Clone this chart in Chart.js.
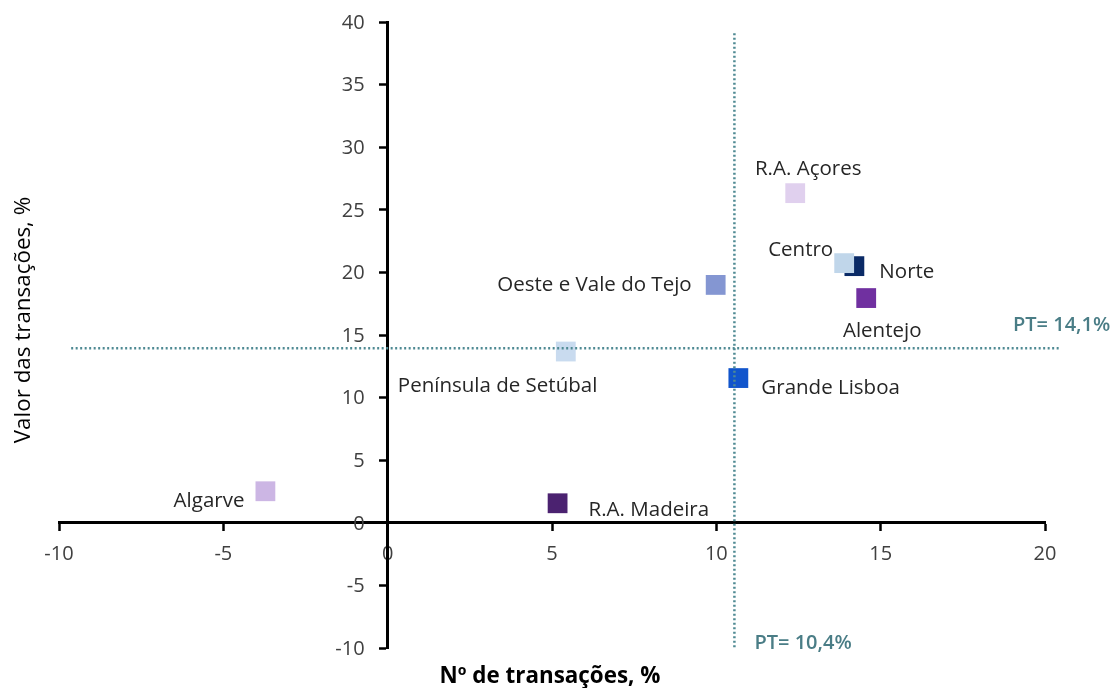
<!DOCTYPE html>
<html>
<head>
<meta charset="utf-8">
<script src="https://cdn.jsdelivr.net/npm/chart.js@4.4.1/dist/chart.umd.min.js"></script>
<style>
  html, body { margin: 0; padding: 0; background: #ffffff; }
  #wrap { width: 1113px; height: 688px; }
</style>
</head>
<body>
<div id="wrap"><canvas id="c" width="1113" height="688"></canvas></div>
<script>
// ---- data ----
const regions = ["Algarve", "R.A. Madeira", "Península de Setúbal", "Oeste e Vale do Tejo", "Grande Lisboa", "R.A. Açores", "Norte", "Centro", "Alentejo"];
const nTransacoes = [-3.72, 5.17, 5.42, 9.98, 10.67, 12.40, 14.20, 13.89, 14.56];
const valorTransacoes = [2.52, 1.56, 13.68, 19.00, 11.56, 26.33, 20.50, 20.74, 17.95];
const ptNumero = 10.55;   // PT= 10,4%
const ptValor = 13.95;    // PT= 14,1%
const xTicks = [-10, -5, 0, 5, 10, 15, 20];
const yTicks = [-10, -5, 0, 5, 10, 15, 20, 25, 30, 35, 40];

// ---- styles ----
const markerColors = ["#ccb6e4", "#4b2270", "#c9dbef", "#8496d2", "#1155cc", "#e0d0ee", "#0a2a66", "#c0d6ea", "#7030a0"];
// label placement relative to marker: [dx, dy, align]
const labelPlace = [
  [-21, 10, "right"], [31, 7, "left"], [-168, 35, "left"], [-24, 0, "right"],
  [23, 10, "left"], [13, -24, "center"], [25, 6, "left"], [-11, -13, "right"], [16, 33, "center"]
];
const FONT = "'Open Sans', Lato, sans-serif";
const teal = "#4f8a93";

const pointData = nTransacoes.map((x, i) => ({ x: x, y: valorTransacoes[i] }));

const labelPlugin = {
  id: "labels",
  afterDatasetsDraw(chart) {
    const ctx = chart.ctx;
    const xs = chart.scales.x, ys = chart.scales.y;
    const meta = chart.getDatasetMeta(2);
    ctx.save();
    // y tick labels (left of the crossing axis)
    ctx.font = "20px " + FONT;
    ctx.fillStyle = "#404040";
    ctx.textAlign = "right";
    ctx.textBaseline = "middle";
    const axisX = xs.getPixelForValue(0);
    yTicks.forEach(v => ctx.fillText(String(v), axisX - 23, ys.getPixelForValue(v) + 1));
    // point labels
    ctx.font = "20.5px " + FONT;
    ctx.fillStyle = "#262626";
    meta.data.forEach((el, i) => {
      const p = labelPlace[i];
      ctx.textAlign = p[2];
      ctx.fillText(regions[i], el.x + p[0], el.y + p[1]);
    });
    // PT labels
    ctx.fillStyle = "#4a7d86";
    ctx.font = "600 20px " + FONT;
    ctx.textAlign = "left";
    ctx.fillText("PT= 14,1%", xs.right - 32, ys.getPixelForValue(ptValor) - 23);
    ctx.fillText("PT= 10,4%", xs.getPixelForValue(ptNumero) + 20, ys.bottom - 5);
    // axis titles
    ctx.fillStyle = "#000000";
    ctx.font = "bold 22.4px " + FONT;
    ctx.textAlign = "center";
    ctx.fillText("Nº de transações, %", (xs.left + xs.right) / 2 - 2, 677);
    ctx.save();
    ctx.translate(24, 320);
    ctx.rotate(-Math.PI / 2);
    ctx.font = "22.4px " + FONT;
    ctx.fillText("Valor das transações, %", 0, 0);
    ctx.restore();
    ctx.restore();
  }
};

new Chart(document.getElementById("c"), {
  type: "scatter",
  data: {
    datasets: [
      {
        label: "PT nº",
        data: [{ x: ptNumero, y: 39.1 }, { x: ptNumero, y: -10 }],
        showLine: true, borderColor: teal, borderWidth: 2.5, borderDash: [2, 2.5],
        pointRadius: 0, clip: false
      },
      {
        label: "PT valor",
        data: [{ x: -9.63, y: ptValor }, { x: 20.43, y: ptValor }],
        showLine: true, borderColor: teal, borderWidth: 2.5, borderDash: [2, 2.5],
        pointRadius: 0, clip: false
      },
      {
        label: "Regiões",
        data: pointData,
        pointStyle: "rect",
        pointRadius: 14,
        pointHoverRadius: 14,
        pointBorderWidth: 0,
        borderWidth: 0,
        backgroundColor: markerColors,
        pointBackgroundColor: markerColors,
        clip: false
      }
    ]
  },
  options: {
    responsive: false,
    animation: false,
    devicePixelRatio: 1,
    layout: { padding: { left: 59, right: 68, top: 22, bottom: 40 } },
    plugins: { legend: { display: false }, tooltip: { enabled: false }, title: { display: false } },
    scales: {
      x: {
        type: "linear",
        position: { y: 0 },
        min: -10, max: 20,
        afterBuildTicks(s) { s.ticks = xTicks.map(v => ({ value: v })); },
        grid: { drawOnChartArea: false, drawTicks: true, tickLength: 7, tickColor: "#000", tickWidth: 2.5 },
        border: { display: true, color: "#000", width: 3 },
        ticks: { color: "#404040", font: { family: FONT, size: 20 }, padding: 12, maxRotation: 0 }
      },
      y: {
        type: "linear",
        position: { x: 0 },
        min: -10, max: 40,
        afterBuildTicks(s) { s.ticks = yTicks.map(v => ({ value: v })); },
        grid: { drawOnChartArea: false, drawTicks: true, tickLength: 7, tickColor: "#000", tickWidth: 2.5 },
        border: { display: true, color: "#000", width: 3 },
        ticks: { display: false }
      }
    }
  },
  plugins: [labelPlugin]
});
</script>
</body>
</html>
